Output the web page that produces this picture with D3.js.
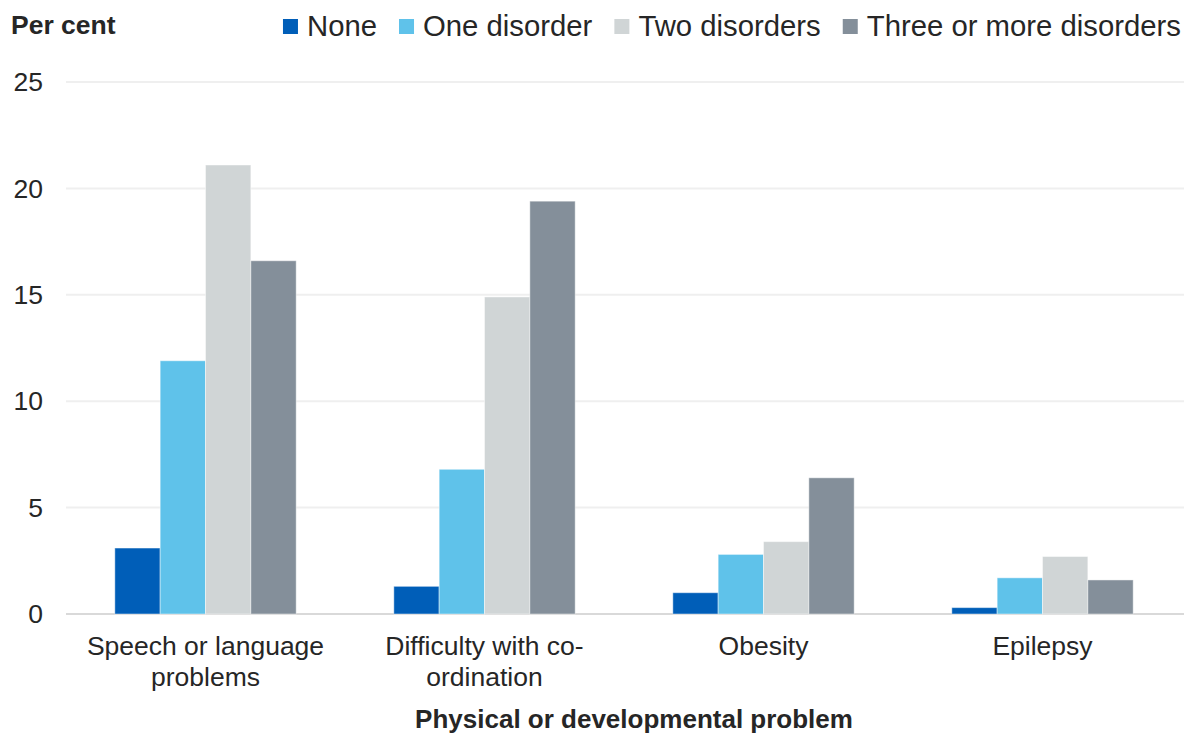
<!DOCTYPE html>
<html>
<head>
<meta charset="utf-8">
<script src="https://cdn.jsdelivr.net/npm/d3@7"></script>
<style>
  html, body { margin: 0; padding: 0; background: #fff; }
  svg { display: block; font-family: "Liberation Sans", Arial, sans-serif; }
</style>
</head>
<body>
<svg id="chart" width="1184" height="735"></svg>
<script>
const categories = [
  ["Speech or language", "problems"],
  ["Difficulty with co-", "ordination"],
  ["Obesity"],
  ["Epilepsy"]
];
const seriesNames = ["None", "One disorder", "Two disorders", "Three or more disorders"];
const seriesColors = ["#005EB8", "#5FC2EA", "#D0D5D6", "#848F9A"];
const valuesNone  = [3.1, 1.3, 1.0, 0.3];
const valuesOne   = [11.9, 6.8, 2.8, 1.7];
const valuesTwo   = [21.1, 14.9, 3.4, 2.7];
const valuesThree = [16.6, 19.4, 6.4, 1.6];
const yTicks = [0, 5, 10, 15, 20, 25];
const yLabel = "Per cent";
const xLabel = "Physical or developmental problem";

const series = [valuesNone, valuesOne, valuesTwo, valuesThree];
const catKeys = categories.map(c => c.join(" "));

const svg = d3.select("#chart");
const textColor = "#262626";

const x0 = d3.scaleBand().domain(catKeys).range([66, 1182]).paddingInner(0.35).paddingOuter(0.175);
const x1 = d3.scaleBand().domain(seriesNames).range([0, x0.bandwidth()]);
const y = d3.scaleLinear().domain([0, 25]).range([614, 82]);

// gridlines
svg.append("g").selectAll("line").data(yTicks).join("line")
  .attr("x1", 66).attr("x2", 1184)
  .attr("y1", d => y(d)).attr("y2", d => y(d))
  .attr("stroke", d => d === 0 ? "#d9d9d9" : "#efefef")
  .attr("stroke-width", 2);

// y tick labels
svg.append("g").selectAll("text").data(yTicks).join("text")
  .attr("x", 43).attr("y", d => y(d))
  .attr("dy", "0.35em")
  .attr("text-anchor", "end")
  .attr("font-size", 26.5)
  .attr("fill", textColor)
  .text(d => d);

// bars
const barData = [];
catKeys.forEach((c, i) => {
  seriesNames.forEach((s, j) => {
    barData.push({cat: c, ser: s, v: series[j][i], color: seriesColors[j]});
  });
});
svg.append("g").selectAll("rect").data(barData).join("rect")
  .attr("x", d => x0(d.cat) + x1(d.ser))
  .attr("width", x1.bandwidth())
  .attr("y", d => y(d.v))
  .attr("height", d => y(0) - y(d.v))
  .attr("fill", d => d.color)
  .attr("stroke", "rgba(255,255,255,0.45)")
  .attr("stroke-width", 1);

// category labels
const catG = svg.append("g");
categories.forEach((lines, i) => {
  const cx = x0(catKeys[i]) + x0.bandwidth() / 2;
  const t = catG.append("text")
    .attr("text-anchor", "middle")
    .attr("font-size", 26.5)
    .attr("fill", textColor);
  lines.forEach((ln, k) => {
    t.append("tspan").attr("x", cx).attr("y", 655 + k * 31).text(ln);
  });
});

// axis titles
svg.append("text")
  .attr("x", 11).attr("y", 34)
  .attr("font-size", 26.5).attr("font-weight", "bold")
  .attr("fill", textColor)
  .text(yLabel);

svg.append("text")
  .attr("x", 634).attr("y", 728)
  .attr("text-anchor", "middle")
  .attr("font-size", 26).attr("font-weight", "bold")
  .attr("fill", textColor)
  .text(xLabel);

// legend, laid out right-aligned
const legendG = svg.append("g");
const legendFont = 29.3;
const sq = 15, gapText = 9, gapItem = 22;
const items = seriesNames.map((s, j) => {
  const g = legendG.append("g");
  g.append("rect").attr("width", sq).attr("height", sq).attr("y", 19).attr("fill", seriesColors[j]);
  const t = g.append("text").attr("x", sq + gapText).attr("y", 36)
    .attr("font-size", legendFont).attr("fill", textColor).text(s);
  const w = sq + gapText + t.node().getComputedTextLength();
  return {g, w};
});
const total = d3.sum(items, d => d.w) + gapItem * (items.length - 1);
let lx = 1181 - total;
items.forEach(it => {
  it.g.attr("transform", `translate(${lx},0)`);
  lx += it.w + gapItem;
});
</script>
</body>
</html>
